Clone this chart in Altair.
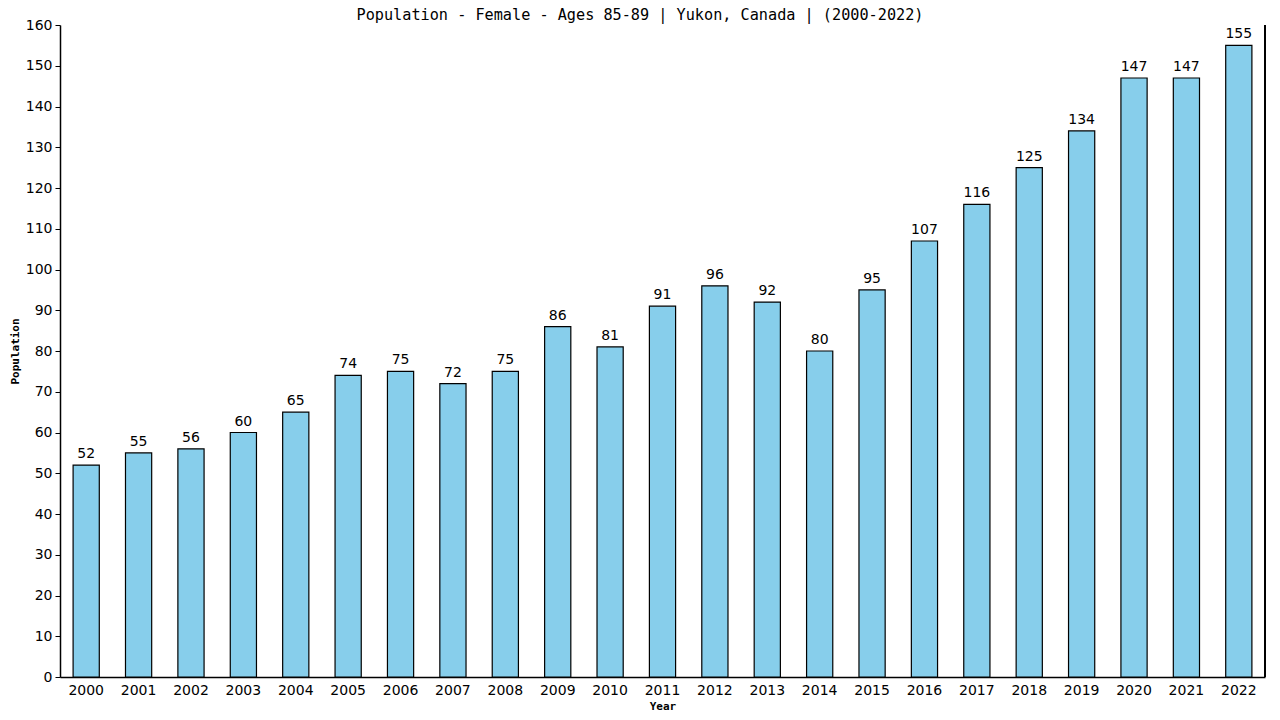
import altair as alt
import pandas as pd

years = [str(y) for y in range(2000, 2023)]
values = [52, 55, 56, 60, 65, 74, 75, 72, 75, 86, 81, 91, 96, 92, 80, 95, 107, 116, 125, 134, 147, 147, 155]
title_text = ["Population - Female - Ages 85-89 | Yukon, Canada |  (2000-2022)"]

df = pd.DataFrame({"Year": years, "Population": values})

MONO = "DejaVu Sans Mono"
SANS = "DejaVu Sans"
W, H = 1205, 652

x = alt.X("Year:N", title="Year", scale=alt.Scale(paddingInner=0.5, paddingOuter=0.25),
          axis=alt.Axis(labelAngle=0, ticks=False, labelPadding=6, labelFont=SANS, labelFontSize=14,
                        labelColor="black", titleFont=MONO, titleFontSize=11, titleFontWeight="bold",
                        titlePadding=3, domainColor="black", domainWidth=1.5, grid=False))
y = alt.Y("Population:Q", title="Population",
          scale=alt.Scale(domain=[0, 160], nice=False),
          axis=alt.Axis(values=list(range(0, 161, 10)), tickSize=5, tickColor="black", labelPadding=3,
                        labelFont=SANS, labelFontSize=14, labelColor="black", grid=False,
                        titleFont=MONO, titleFontSize=11, titleFontWeight="bold", titlePadding=5,
                        domainColor="black", domainWidth=1.5))

bars = alt.Chart(df).mark_bar(color="#87CEEB", stroke="black", strokeWidth=1.2).encode(x=x, y=y)
labels = alt.Chart(df).mark_text(baseline="bottom", dy=-4, font=SANS, fontSize=14, color="black").encode(
    x=alt.X("Year:N"), y=alt.Y("Population:Q"), text=alt.Text("Population:Q"))
right = alt.Chart(df).mark_rule(color="black", strokeWidth=1.5).encode(
    x=alt.value(W), y=alt.value(0), y2=alt.value(H))
title = alt.Chart(pd.DataFrame({"t": title_text})).mark_text(
    font=MONO, fontSize=15.2, color="black", baseline="alphabetic", align="center").encode(
    x=alt.value(580), y=alt.value(-5), text="t:N")

chart = alt.layer(bars, labels, right, title).properties(
    width=W, height=H,
    background="white",
    autosize=alt.AutoSizeParams(type="none"),
    padding={"left": 52, "top": 17, "right": 7, "bottom": 35},
).configure_view(strokeWidth=0, stroke="transparent")

chart.save("out.html", embed_options={"renderer": "svg", "actions": False})
